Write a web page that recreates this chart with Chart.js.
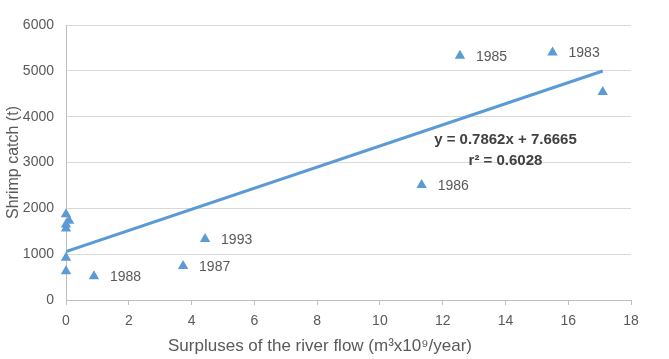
<!DOCTYPE html>
<html>
<head>
<meta charset="utf-8">
<script src="https://cdn.jsdelivr.net/npm/chart.js@4/dist/chart.umd.min.js"></script>
<style>
  html, body { margin: 0; padding: 0; background: #fff; }
  #wrap { width: 669px; height: 359px; }
</style>
</head>
<body>
<div id="wrap"><canvas id="chart" width="669" height="359"></canvas></div>
<script>
// river flow surplus (x) vs shrimp catch (y)
const flowValues = [12.55, 15.5, 17.1, 11.33, 4.43, 3.73, 0.89, 0, 0.1, 0, 0, 0, 0];
const catchValues = [5330, 5400, 4540, 2510, 1330, 740, 520, 1870, 1730, 1650, 1560, 920, 630];
const yearLabels = ["1985", "1983", "", "1986", "1993", "1987", "1988", "", "", "", "", "", ""];

// fitted line end points
const trendX = [0, 17.1];
const trendY = [1055, 4997];

const equationLines = ["y = 0.7862x + 7.6665", "r\u00B2 = 0.6028"];
const equationAnchor = { x: 14.0, y: 3490 };

const xTicks = [0, 2, 4, 6, 8, 10, 12, 14, 16, 18];
const yTicks = [0, 1000, 2000, 3000, 4000, 5000, 6000];
const xTitle = "Surpluses of the river flow (m\u00B3x10\u2079/year)";

const blue = "#5b9bd5";
const textGrey = "#595959";
const font = "'Liberation Sans', Arial, sans-serif";

const labelPlugin = {
  id: "pointLabels",
  afterDatasetsDraw(chart) {
    const ctx = chart.ctx;
    const meta = chart.getDatasetMeta(0);
    ctx.save();
    ctx.font = "14px " + font;
    ctx.fillStyle = textGrey;
    ctx.textAlign = "left";
    ctx.textBaseline = "middle";
    meta.data.forEach((pt, i) => {
      if (yearLabels[i]) ctx.fillText(yearLabels[i], pt.x + 16, pt.y + 1);
    });
    const xs = chart.scales.x, ys = chart.scales.y;
    const ex = xs.getPixelForValue(equationAnchor.x);
    const ey = ys.getPixelForValue(equationAnchor.y);
    ctx.font = "bold 15px " + font;
    ctx.fillStyle = "#404040";
    ctx.textAlign = "center";
    equationLines.forEach((line, i) => ctx.fillText(line, ex, ey + i * 21));

    // x axis title, Excel puts it a bit left of the plot centre
    ctx.font = "17px " + font;
    ctx.fillStyle = textGrey;
    ctx.fillText(xTitle, chart.chartArea.left + 254, xs.bottom - 13);
    ctx.restore();
  },
};

new Chart(document.getElementById("chart"), {
  type: "scatter",
  data: {
    datasets: [
      {
        data: flowValues.map((x, i) => ({ x: x, y: catchValues[i] })),
        pointStyle: "triangle",
        pointRadius: 6,
        pointHoverRadius: 6,
        backgroundColor: blue,
        borderColor: blue,
        borderWidth: 0,
        clip: false,
      },
      {
        data: trendX.map((x, i) => ({ x: x, y: trendY[i] })),
        showLine: true,
        pointRadius: 0,
        borderColor: blue,
        borderWidth: 3,
      },
    ],
  },
  plugins: [labelPlugin],
  options: {
    responsive: false,
    animation: false,
    layout: { padding: { top: 25, right: 38, left: 0, bottom: 0 } },
    plugins: { legend: { display: false }, tooltip: { enabled: false } },
    scales: {
      x: {
        type: "linear",
        min: 0,
        max: 18,
        afterBuildTicks: (s) => { s.ticks = xTicks.map((v) => ({ value: v })); },
        afterFit: (s) => { s.height = 59; },
        grid: { drawOnChartArea: false, color: "#bfbfbf", tickLength: 5 },
        border: { color: "#bfbfbf" },
        ticks: { color: textGrey, font: { family: font, size: 14 }, padding: 8 },
      },
      y: {
        min: 0,
        max: 6000,
        afterBuildTicks: (s) => { s.ticks = yTicks.map((v) => ({ value: v })); },
        afterFit: (s) => { s.width = 66; },
        grid: { color: "#d9d9d9", drawTicks: false },
        border: { color: "#bfbfbf" },
        ticks: {
          color: textGrey,
          font: { family: font, size: 14 },
          padding: 12,
          callback: (v) => String(v),
        },
        title: {
          display: true,
          text: "Shrimp catch (t)",
          color: textGrey,
          font: { family: font, size: 16 },
          padding: { top: 4, bottom: 0 },
        },
      },
    },
  },
});
</script>
</body>
</html>
